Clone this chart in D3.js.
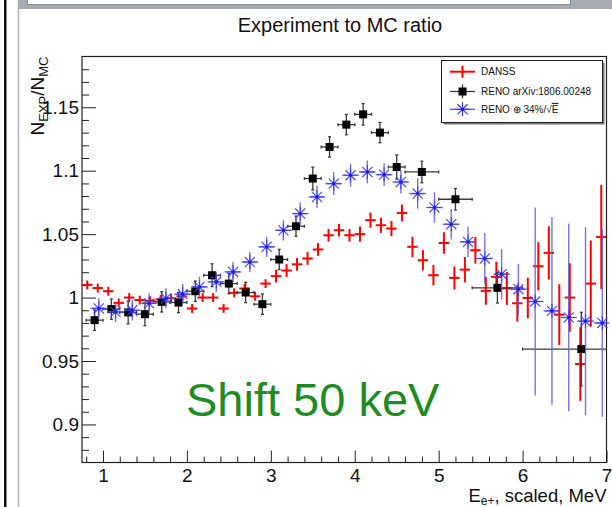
<!DOCTYPE html>
<html>
<head>
<meta charset="utf-8">
<script src="https://cdn.jsdelivr.net/npm/d3@7"></script>
<style>
  body { margin: 0; background: #fff; }
  svg { display: block; font-family: "Liberation Sans", Arial, Helvetica, sans-serif; }
</style>
</head>
<body>
<div id="chart"></div>
<script>
// DANSS ratio, 0.125 MeV bins
const danssE = [0.8125, 0.9375, 1.0625, 1.1875, 1.3125, 1.4375, 1.5625, 1.6875, 1.8125, 1.9375,
  2.0625, 2.1875, 2.3125, 2.4375, 2.5625, 2.6875, 2.8125, 2.9375, 3.0625, 3.1875,
  3.3125, 3.4375, 3.5625, 3.6875, 3.8125, 3.9375, 4.0625, 4.1875, 4.3125, 4.4375,
  4.5625, 4.6875, 4.8125, 4.9375, 5.0625, 5.1875, 5.3125, 5.4375, 5.5625, 5.6875,
  5.8125, 5.9375, 6.0625, 6.1875, 6.3125, 6.4375, 6.5625, 6.6875, 6.8125, 6.9375];
const danssR = [1.0100, 1.0075, 1.0050, 0.9958, 1.0000, 0.9980, 0.9975, 0.9985, 0.9995, 1.0010,
  0.9914, 1.0000, 1.0000, 0.9914, 1.0037, 1.0072, 1.0010, 1.0110, 1.0169, 1.0213,
  1.0262, 1.0308, 1.0379, 1.0491, 1.0531, 1.0491, 1.0500, 1.0610, 1.0570, 1.0544,
  1.0667, 1.0400, 1.0294, 1.0176, 1.0430, 1.0155, 1.0220, 1.0373, 1.0053, 1.0163,
  1.0072, 0.9955, 0.9997, 1.0247, 1.0352, 0.9865, 1.0000, 0.9476, 1.0110, 1.0478];
const danssErr = [0.0035, 0.0035, 0.0035, 0.0035, 0.0035, 0.0035, 0.0035, 0.0035, 0.0035, 0.0035,
  0.0035, 0.0035, 0.0035, 0.0035, 0.0035, 0.0035, 0.0035, 0.0035, 0.005, 0.005,
  0.005, 0.005, 0.005, 0.005, 0.005, 0.005, 0.006, 0.006, 0.006, 0.006,
  0.0066, 0.008, 0.008, 0.008, 0.0085, 0.009, 0.010, 0.0105, 0.011, 0.012,
  0.013, 0.0145, 0.016, 0.019, 0.021, 0.024, 0.027, 0.029, 0.034, 0.041];
const danssHalfBin = 0.0625;

// RENO arXiv:1806.00248
const renoE = [0.9, 1.1, 1.3, 1.5, 1.7, 1.9, 2.1, 2.3, 2.5, 2.7, 2.9, 3.1, 3.3, 3.5, 3.7, 3.9,
  4.1, 4.3, 4.5, 4.8, 5.2, 5.7, 6.7];
const renoDE = [0.1, 0.1, 0.1, 0.1, 0.1, 0.1, 0.1, 0.1, 0.1, 0.1, 0.1, 0.1, 0.1, 0.1, 0.1, 0.1,
  0.1, 0.1, 0.1, 0.2, 0.2, 0.3, 0.7];
const renoR = [0.9822, 0.9909, 0.9883, 0.9869, 0.9966, 0.9961, 1.0050, 1.0176, 1.0110, 1.0040,
  0.9948, 1.0300, 1.0562, 1.0938, 1.1187, 1.1363, 1.1444, 1.1300, 1.1029, 1.0990,
  1.0775, 1.0077, 0.9594];
const renoErr = [0.008, 0.008, 0.009, 0.009, 0.008, 0.008, 0.008, 0.009, 0.008, 0.008,
  0.008, 0.008, 0.008, 0.009, 0.008, 0.008, 0.0085, 0.008, 0.0095, 0.0085,
  0.0085, 0.012, 0.029];

// RENO smeared with 34%/sqrt(E)
const smearE = [0.95, 1.15, 1.35, 1.55, 1.75, 1.95, 2.15, 2.35, 2.55, 2.75, 2.95, 3.15, 3.35, 3.55,
  3.75, 3.95, 4.15, 4.35, 4.55, 4.75, 4.95, 5.15, 5.35, 5.55, 5.75, 5.95, 6.15, 6.35,
  6.55, 6.75, 6.95];
const smearR = [0.9914, 0.9887, 0.9900, 0.9954, 0.9993, 1.0027, 1.0084, 1.0124, 1.0202, 1.0280,
  1.0400, 1.0530, 1.0662, 1.0793, 1.0898, 1.0964, 1.0990, 1.0969, 1.0911, 1.0820,
  1.0710, 1.0578, 1.0439, 1.0308, 1.0184, 1.0066, 0.9969, 0.9895, 0.9843, 0.9814, 0.9800];
const smearErr = [0.008, 0.008, 0.008, 0.008, 0.008, 0.008, 0.008, 0.008, 0.008, 0.008,
  0.008, 0.008, 0.009, 0.009, 0.009, 0.009, 0.009, 0.009, 0.009, 0.012,
  0.012, 0.012, 0.012, 0.02, 0.02, 0.02, 0.074, 0.074, 0.074, 0.074, 0.074];
const smearHalfBin = 0.1;

// axis ticks
const xMajor = [1, 2, 3, 4, 5, 6, 7];
const yMajor = [0.9, 0.95, 1, 1.05, 1.1, 1.15];

// colours
const danssColor = '#ff0000';
const renoColor = '#000000';
const renoBarColor = '#3a3a3a';
const smearColor = '#3a3aff';
const smearBarColor = '#5c5ce0';
const shiftColor = '#1e8c1e';

const width = 612;
const height = 507;

const svg = d3.select('#chart').append('svg')
  .attr('width', width)
  .attr('height', height);

const x = d3.scaleLinear().domain([0.75, 7]).range([82, 606.5]);
const y = d3.scaleLinear().domain([0.87, 1.19]).range([462.5, 56.5]);

drawPage();
drawAxes();
drawDanss();
drawReno();
drawSmear();
drawLegend();
drawTexts();

// slide decorations round the canvas
function drawPage() {
  svg.append('rect').attr('width', width).attr('height', height).attr('fill', '#fff');
  svg.append('rect').attr('x', 4).attr('y', 0).attr('width', 2.5).attr('height', height).attr('fill', '#111');
  svg.append('line').attr('x1', 18.5).attr('x2', 18.5).attr('y1', 0).attr('y2', height)
    .attr('stroke', '#b4b8c0').attr('stroke-width', 1.5);
  svg.append('rect').attr('x', 18).attr('y', 0).attr('width', width - 18).attr('height', 9).attr('fill', '#a6aab2');
  svg.append('rect').attr('x', 27.5).attr('y', -1).attr('width', 543).attr('height', 5.5)
    .attr('fill', '#fff').attr('stroke', '#8c9098');
}

function drawAxes() {
  const xMinor = d3.range(0.8, 7, 0.2).filter(v => Math.abs(v - Math.round(v)) > 0.01);
  const yMinor = d3.range(0.88, 1.19, 0.01).filter(v => Math.abs(v * 20 - Math.round(v * 20)) > 0.01);

  const gx = svg.append('g').attr('transform', `translate(0,${y.range()[0]})`);
  gx.call(d3.axisBottom(x).tickValues(xMajor).tickSize(-12).tickPadding(6).tickFormat(d3.format('d')));
  const gxm = svg.append('g').attr('transform', `translate(0,${y.range()[0]})`);
  gxm.call(d3.axisBottom(x).tickValues(xMinor).tickSize(-6).tickFormat(''));

  const gy = svg.append('g').attr('transform', `translate(${x.range()[0]},0)`);
  gy.call(d3.axisLeft(y).tickValues(yMajor).tickSize(-14).tickPadding(3).tickFormat(d => String(+d.toFixed(2))));
  const gym = svg.append('g').attr('transform', `translate(${x.range()[0]},0)`);
  gym.call(d3.axisLeft(y).tickValues(yMinor).tickSize(-7).tickFormat(''));

  svg.selectAll('.domain').remove();
  svg.selectAll('.tick line').attr('stroke', '#222');
  svg.selectAll('.tick text').attr('fill', '#111').style('font-size', '19px')
    .style('font-family', '"Liberation Sans", Arial, sans-serif');

  svg.append('rect')
    .attr('x', x.range()[0]).attr('y', y.range()[1])
    .attr('width', x.range()[1] - x.range()[0]).attr('height', y.range()[0] - y.range()[1])
    .attr('fill', 'none').attr('stroke', '#222').attr('stroke-width', 1.2);
}

function clipY(v) {
  return Math.max(y.range()[1], Math.min(y.range()[0], y(v)));
}

function clipX(v) {
  return Math.max(x.range()[0], Math.min(x.range()[1], x(v)));
}

function drawDanss() {
  const g = svg.append('g').attr('stroke', danssColor).attr('stroke-width', 2);
  danssE.forEach((e, i) => {
    g.append('line')
      .attr('x1', x(e - danssHalfBin)).attr('x2', x(e + danssHalfBin))
      .attr('y1', y(danssR[i])).attr('y2', y(danssR[i]));
    g.append('line')
      .attr('x1', x(e)).attr('x2', x(e))
      .attr('y1', clipY(danssR[i] - danssErr[i])).attr('y2', clipY(danssR[i] + danssErr[i]));
  });
}

function drawReno() {
  const g = svg.append('g');
  const bars = g.append('g').attr('stroke', renoBarColor).attr('stroke-width', 1.3);
  renoE.forEach((e, i) => {
    const cy = y(renoR[i]);
    const x1 = clipX(e - renoDE[i]), x2 = clipX(e + renoDE[i]);
    const y1 = y(renoR[i] - renoErr[i]), y2 = y(renoR[i] + renoErr[i]);
    bars.append('line').attr('x1', x1).attr('x2', x2).attr('y1', cy).attr('y2', cy);
    bars.append('line').attr('x1', x(e)).attr('x2', x(e)).attr('y1', y1).attr('y2', y2);
    // end caps
    bars.append('line').attr('x1', x(e) - 1.5).attr('x2', x(e) + 1.5).attr('y1', y1).attr('y2', y1);
    bars.append('line').attr('x1', x(e) - 1.5).attr('x2', x(e) + 1.5).attr('y1', y2).attr('y2', y2);
    if (x1 > x.range()[0]) bars.append('line').attr('x1', x1).attr('x2', x1).attr('y1', cy - 1.5).attr('y2', cy + 1.5);
    if (x2 < x.range()[1]) bars.append('line').attr('x1', x2).attr('x2', x2).attr('y1', cy - 1.5).attr('y2', cy + 1.5);
  });
  g.selectAll('rect.reno').data(renoE).join('rect')
    .attr('class', 'reno')
    .attr('x', d => x(d) - 4).attr('y', (d, i) => y(renoR[i]) - 4)
    .attr('width', 8).attr('height', 8)
    .attr('fill', renoColor);
}

function starPath(cx, cy, r) {
  const d = r * 0.72;
  return `M${cx - r},${cy}H${cx + r}M${cx},${cy - r}V${cy + r}` +
    `M${cx - d},${cy - d}L${cx + d},${cy + d}M${cx - d},${cy + d}L${cx + d},${cy - d}`;
}

function drawSmear() {
  const g = svg.append('g');
  const bars = g.append('g').attr('stroke', smearBarColor).attr('stroke-width', 1.4).attr('opacity', 0.85);
  smearE.forEach((e, i) => {
    const cy = y(smearR[i]);
    bars.append('line')
      .attr('x1', clipX(e - smearHalfBin)).attr('x2', clipX(e + smearHalfBin))
      .attr('y1', cy).attr('y2', cy);
    bars.append('line').attr('x1', x(e)).attr('x2', x(e))
      .attr('y1', clipY(smearR[i] - smearErr[i])).attr('y2', clipY(smearR[i] + smearErr[i]));
  });
  smearE.forEach((e, i) => {
    g.append('path').attr('d', starPath(x(e), y(smearR[i]), 7))
      .attr('stroke', smearColor).attr('stroke-width', 1.2).attr('fill', 'none').attr('opacity', 0.9);
    g.append('circle').attr('cx', x(e)).attr('cy', y(smearR[i])).attr('r', 1.6).attr('fill', '#1c1cd8');
  });
}

function drawLegend() {
  const lx = 441.5, ly = 60.5, lw = 161, lh = 62;
  svg.append('rect').attr('x', lx + 2).attr('y', ly + 2).attr('width', lw).attr('height', lh).attr('fill', '#777');
  svg.append('rect').attr('x', lx).attr('y', ly).attr('width', lw).attr('height', lh)
    .attr('fill', '#fff').attr('stroke', '#222');

  const sx1 = 450, sx2 = 475, sxc = 462.5, tx = 481;
  const rows = [71.7, 91.5, 109.3];

  // DANSS
  svg.append('line').attr('x1', sx1).attr('x2', sx2).attr('y1', rows[0]).attr('y2', rows[0])
    .attr('stroke', danssColor).attr('stroke-width', 2);
  svg.append('line').attr('x1', sxc).attr('x2', sxc).attr('y1', rows[0] - 6).attr('y2', rows[0] + 6)
    .attr('stroke', danssColor).attr('stroke-width', 2);

  // RENO
  svg.append('line').attr('x1', sx1).attr('x2', sx2).attr('y1', rows[1]).attr('y2', rows[1])
    .attr('stroke', renoBarColor).attr('stroke-width', 1.3);
  svg.append('line').attr('x1', sxc).attr('x2', sxc).attr('y1', rows[1] - 7).attr('y2', rows[1] + 7)
    .attr('stroke', renoBarColor).attr('stroke-width', 1.3);
  svg.append('rect').attr('x', sxc - 4).attr('y', rows[1] - 4).attr('width', 8).attr('height', 8).attr('fill', renoColor);

  // RENO smeared
  svg.append('line').attr('x1', sx1).attr('x2', sx2).attr('y1', rows[2]).attr('y2', rows[2])
    .attr('stroke', smearBarColor).attr('stroke-width', 1.4);
  svg.append('path').attr('d', starPath(sxc, rows[2], 7)).attr('stroke', smearColor)
    .attr('stroke-width', 1.2).attr('fill', 'none');
  svg.append('circle').attr('cx', sxc).attr('cy', rows[2]).attr('r', 1.6).attr('fill', '#1c1cd8');

  const labels = ['DANSS', 'RENO arXiv:1806.00248'];
  labels.forEach((t, i) => {
    svg.append('text').text(t).attr('x', tx).attr('y', rows[i] + 3.6)
      .attr('font-size', 10).attr('fill', '#111');
  });
  const t3 = svg.append('text').attr('x', tx).attr('y', rows[2] + 3.6)
    .attr('font-size', 10).attr('fill', '#111');
  t3.append('tspan').text('RENO \u2295 34%/\u221A');
  t3.append('tspan').text('E').style('text-decoration', 'overline');
}

function drawTexts() {
  svg.append('text').text('Experiment to MC ratio')
    .attr('x', 340).attr('y', 32).attr('text-anchor', 'middle')
    .attr('font-size', 20).attr('fill', '#111');

  // y title, rotated, aligned to top of frame
  const yt = svg.append('text')
    .attr('transform', `translate(44,${y.range()[1]}) rotate(-90)`)
    .attr('text-anchor', 'end').attr('font-size', 19).attr('fill', '#111');
  yt.append('tspan').text('N');
  yt.append('tspan').text('EXP').attr('font-size', 13).attr('dy', 4);
  yt.append('tspan').text('/N').attr('dy', -4);
  yt.append('tspan').text('MC').attr('font-size', 13).attr('dy', 4);

  // x title, right aligned
  const xt = svg.append('text')
    .attr('x', x.range()[1]).attr('y', 502).attr('text-anchor', 'end')
    .attr('font-size', 18.5).attr('fill', '#111');
  xt.append('tspan').text('E');
  xt.append('tspan').text('e+').attr('font-size', 12).attr('dy', 3);
  xt.append('tspan').text(', scaled, MeV').attr('dy', -3);

  svg.append('text').text('Shift 50 keV')
    .attr('x', 186).attr('y', 416)
    .attr('font-size', 47).attr('fill', shiftColor);
}
</script>
</body>
</html>
